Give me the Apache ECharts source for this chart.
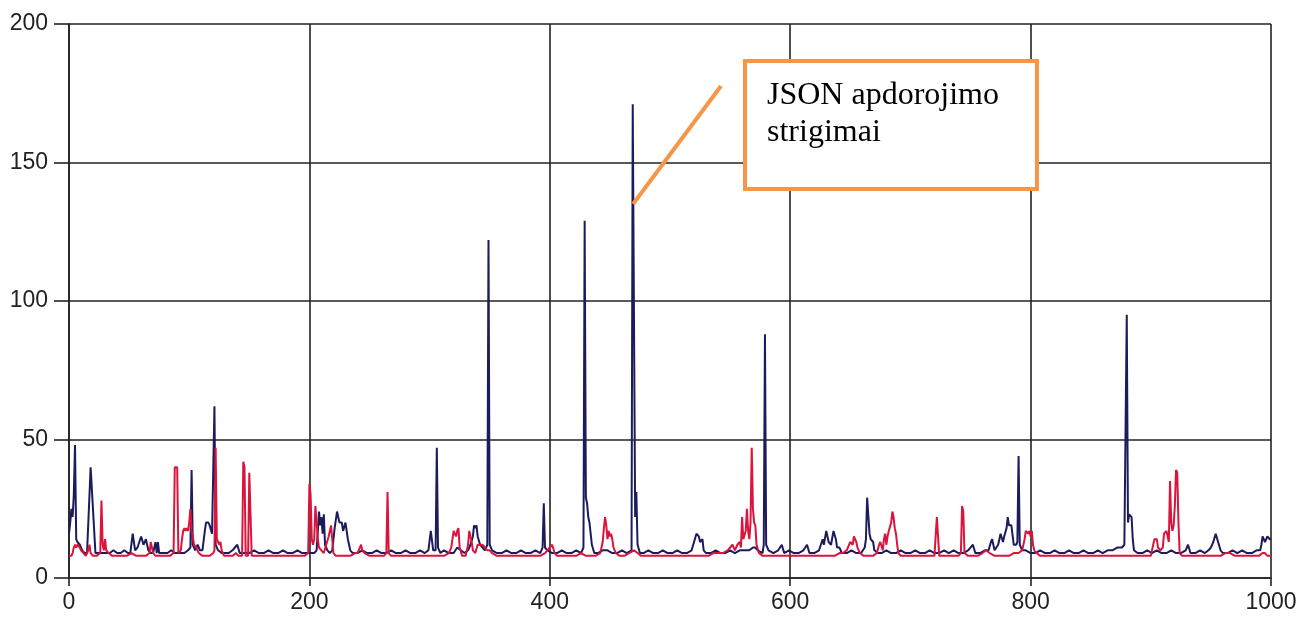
<!DOCTYPE html>
<html>
<head>
<meta charset="utf-8">
<script src="https://cdn.jsdelivr.net/npm/echarts@6/dist/echarts.min.js"></script>
<style>
html,body{margin:0;padding:0;background:#fff;}
#chart{width:1296px;height:617px;}
</style>
</head>
<body>
<div id="chart"></div>
<script>
// x-axis and y-axis tick values
const xTicks = [0, 200, 400, 600, 800, 1000];
const yTicks = [0, 50, 100, 150, 200];

// navy series: [x, value]
const blueData = [[0,16],[1,20],[2,25],[3,22],[4,30],[5,48],[6,14],[7,13],[8,13],[9,12],[10,12],[11,10],[13,9],[15,9],[18,40],[22,9],[25,9],[28,9],[31,9],[34,9],[37,10],[40,9],[43,9],[46,10],[49,9],[51,9],[53,16],[55,10],[57,11],[60,15],[62,12],[64,14],[66,10],[68,9],[70,9],[72,13],[73,9],[74,13],[75,9],[78,9],[82,9],[85,10],[88,9],[92,9],[96,9],[99,10],[101,11],[102,39],[103,12],[105,10],[107,12],[109,10],[111,10],[113,17],[114,20],[116,20],[117,19],[119,16],[121,62],[122,12],[124,10],[127,9],[130,9],[133,9],[136,10],[138,11],[140,12],[142,9],[146,9],[150,9],[154,10],[158,9],[162,9],[166,10],[170,9],[174,9],[178,10],[182,9],[186,9],[190,10],[194,9],[198,9],[202,9],[204,9],[206,10],[208,24],[209,19],[210,22],[211,16],[212,23],[213,12],[215,10],[217,9],[219,10],[221,18],[223,24],[225,20],[227,20],[228,17],[230,20],[232,14],[234,10],[236,9],[240,9],[244,10],[248,9],[252,9],[256,10],[260,9],[264,9],[268,10],[272,9],[276,9],[280,10],[284,9],[288,9],[292,10],[296,9],[299,10],[301,17],[303,10],[305,10],[306,47],[307,11],[309,9],[312,10],[316,9],[320,9],[323,11],[326,10],[329,9],[332,10],[334,12],[336,15],[337,19],[338,18],[339,19],[340,15],[342,12],[344,11],[346,10],[348,12],[349,122],[350,12],[352,10],[356,9],[360,9],[364,10],[368,9],[372,9],[376,10],[380,9],[384,9],[388,10],[392,9],[394,11],[395,27],[396,11],[398,10],[402,9],[406,9],[410,10],[414,9],[418,9],[422,10],[426,9],[428,11],[429,129],[430,29],[431,27],[432,22],[433,20],[435,12],[437,9],[440,9],[444,10],[448,10],[452,9],[456,9],[460,10],[464,9],[468,10],[469,171],[471,22],[472,31],[473,12],[475,9],[478,9],[482,10],[486,9],[490,9],[494,10],[498,9],[502,9],[506,10],[510,9],[514,9],[518,10],[520,13],[522,16],[523,16],[524,15],[525,13],[527,14],[528,10],[530,9],[534,9],[538,10],[542,9],[546,9],[550,10],[554,9],[558,10],[562,10],[566,10],[569,11],[571,11],[573,10],[577,9],[578,12],[579,88],[580,12],[582,10],[586,9],[590,10],[593,12],[595,9],[599,10],[603,9],[607,9],[611,10],[614,12],[616,9],[620,9],[624,10],[627,14],[628,12],[630,17],[632,13],[634,12],[636,17],[638,14],[639,11],[641,11],[643,9],[647,9],[651,10],[655,9],[659,9],[662,11],[663,14],[664,29],[666,16],[667,14],[669,13],[670,10],[673,9],[676,9],[680,10],[684,9],[688,9],[692,10],[696,9],[700,9],[704,10],[708,9],[712,9],[716,10],[720,9],[724,9],[728,10],[732,9],[736,10],[740,9],[744,9],[748,10],[752,12],[754,9],[758,9],[762,10],[765,10],[767,13],[768,14],[770,10],[773,12],[775,16],[777,13],[778,15],[780,18],[781,22],[782,19],[784,19],[786,12],[788,12],[789,13],[790,44],[791,12],[793,10],[796,10],[800,9],[804,9],[808,10],[812,9],[816,9],[820,10],[824,9],[828,9],[832,10],[836,9],[840,9],[844,10],[848,9],[852,9],[856,10],[860,9],[864,10],[868,10],[872,11],[876,11],[878,12],[880,95],[881,20],[882,23],[884,22],[885,14],[886,10],[889,9],[893,9],[897,10],[901,9],[905,10],[909,9],[913,9],[917,10],[921,9],[925,9],[929,10],[931,12],[933,9],[937,9],[941,10],[945,9],[948,10],[950,11],[952,13],[954,16],[956,13],[958,10],[960,9],[964,9],[968,10],[972,9],[976,10],[980,9],[984,9],[988,10],[991,10],[992,12],[993,15],[995,13],[997,15],[999,14],[1000,14]];

// crimson series: [x, value]
const redData = [[0,8],[2,8],[3,9],[4,11],[5,12],[6,11],[7,12],[8,12],[9,11],[10,10],[12,9],[14,8],[16,10],[17,12],[18,9],[20,8],[23,8],[26,9],[27,28],[28,12],[29,10],[30,14],[31,10],[33,9],[36,8],[40,8],[44,8],[48,8],[52,9],[56,8],[60,8],[64,8],[67,9],[68,13],[70,9],[72,8],[76,8],[80,8],[84,8],[87,9],[88,40],[90,40],[91,9],[93,10],[94,14],[95,17],[96,18],[97,17],[98,18],[99,17],[100,20],[101,25],[102,17],[103,15],[104,12],[106,11],[108,9],[111,8],[114,8],[117,8],[120,9],[121,10],[122,47],[123,14],[124,13],[125,12],[126,13],[127,10],[129,8],[132,8],[136,8],[139,9],[141,8],[144,8],[145,42],[146,40],[147,8],[149,8],[150,38],[151,38],[152,8],[156,8],[160,8],[164,8],[168,8],[172,8],[176,8],[180,8],[184,8],[188,8],[192,8],[196,8],[199,9],[200,34],[201,30],[202,14],[203,12],[204,14],[205,26],[206,20],[207,14],[208,11],[210,10],[212,9],[214,12],[216,15],[218,19],[219,14],[220,9],[222,8],[226,8],[230,8],[234,8],[238,9],[240,9],[242,11],[243,12],[244,10],[246,9],[250,8],[254,8],[258,8],[262,8],[264,9],[265,31],[266,9],[268,8],[272,8],[276,8],[280,8],[284,8],[288,8],[292,8],[296,8],[300,8],[304,8],[308,8],[312,8],[316,9],[318,11],[320,17],[321,16],[322,15],[323,17],[324,18],[325,11],[327,8],[330,8],[332,12],[333,17],[334,17],[335,13],[336,10],[338,9],[340,12],[342,12],[344,12],[346,11],[348,10],[350,10],[352,9],[356,8],[360,8],[364,8],[368,8],[372,8],[376,8],[380,8],[384,8],[388,8],[392,8],[396,9],[398,10],[400,11],[402,12],[404,9],[406,8],[410,8],[414,8],[418,8],[422,8],[426,9],[430,8],[434,8],[438,8],[442,9],[444,13],[445,18],[446,22],[447,19],[448,14],[449,17],[450,15],[451,16],[452,14],[453,11],[455,9],[458,8],[462,8],[466,9],[470,10],[473,9],[476,8],[480,8],[484,8],[488,8],[492,8],[496,8],[500,8],[504,8],[508,8],[512,8],[516,8],[520,8],[524,8],[528,8],[532,8],[536,9],[540,9],[544,9],[548,10],[550,11],[552,12],[554,10],[556,12],[558,13],[559,11],[560,22],[561,14],[563,17],[564,25],[565,17],[566,14],[567,20],[568,47],[569,25],[570,20],[571,19],[572,12],[574,9],[577,8],[581,8],[585,8],[589,8],[593,8],[597,8],[601,8],[605,8],[609,8],[613,8],[617,8],[621,8],[625,8],[629,8],[633,8],[637,8],[641,9],[644,9],[647,10],[649,12],[650,13],[652,12],[653,15],[655,13],[656,11],[658,9],[661,8],[665,8],[669,8],[672,9],[674,12],[675,13],[677,10],[678,14],[679,16],[680,12],[681,15],[682,17],[684,20],[685,24],[686,22],[687,18],[688,16],[689,12],[690,9],[692,8],[696,8],[700,8],[704,8],[708,8],[712,8],[716,8],[720,8],[722,22],[723,22],[724,8],[728,8],[732,8],[736,8],[740,8],[742,9],[743,26],[744,24],[745,9],[748,8],[752,8],[756,8],[760,9],[763,10],[766,9],[770,8],[774,8],[778,8],[782,8],[786,9],[790,9],[793,10],[795,14],[796,17],[798,16],[799,17],[800,15],[801,17],[802,12],[803,10],[805,9],[808,8],[812,8],[816,8],[820,8],[824,8],[828,8],[832,8],[836,8],[840,8],[844,8],[848,8],[852,8],[856,8],[860,8],[864,8],[868,8],[872,8],[876,8],[880,8],[884,8],[888,8],[892,8],[896,8],[900,8],[902,12],[903,14],[905,14],[906,11],[908,10],[910,11],[911,16],[913,17],[915,13],[916,35],[917,20],[918,17],[919,19],[920,26],[921,39],[922,38],[923,20],[924,9],[926,8],[930,8],[934,8],[938,8],[942,8],[946,8],[950,8],[954,8],[958,8],[962,9],[966,9],[970,8],[974,8],[978,8],[982,8],[986,8],[990,8],[993,9],[995,9],[997,8],[1000,8]];

// annotation text and its anchor (data coordinates)
const noteText = 'JSON apdorojimo\nstrigimai';
const noteLine = [[469.3, 135], [542.4, 177.6]];
const noteBox = [[562.4, 186.6], [805.3, 140.4]];

const chart = echarts.init(document.getElementById('chart'), null, {renderer: 'canvas'});
const gridColor = '#222';
chart.setOption({
  animation: false,
  backgroundColor: '#fff',
  grid: {left: 69, right: 25, top: 24, bottom: 39, containLabel: false, outerBoundsMode: 'none'},
  xAxis: {
    type: 'value', min: xTicks[0], max: xTicks[xTicks.length - 1], interval: 200,
    axisLine: {show: true, onZero: false, lineStyle: {color: gridColor, width: 1.6}},
    axisTick: {show: true, length: 8, lineStyle: {color: gridColor, width: 1.6}},
    splitLine: {show: true, lineStyle: {color: gridColor, width: 1.6}},
    axisLabel: {color: '#222', fontFamily: 'Liberation Sans, Arial, sans-serif', fontSize: 23, margin: 13,
      formatter: v => String(v), hideOverlap: false, showMaxLabel: true, showMinLabel: true}
  },
  yAxis: {
    type: 'value', min: yTicks[0], max: yTicks[yTicks.length - 1], interval: 50,
    axisLine: {show: true, lineStyle: {color: gridColor, width: 1.6}},
    axisTick: {show: true, length: 15, lineStyle: {color: gridColor, width: 1.6}},
    splitLine: {show: true, lineStyle: {color: gridColor, width: 1.6}},
    axisLabel: {color: '#222', fontFamily: 'Liberation Sans, Arial, sans-serif', fontSize: 23, margin: 21,
      formatter: v => String(v)}
  },
  series: [
    {
      type: 'line', data: blueData, showSymbol: false, symbol: 'none',
      lineStyle: {color: '#1c1c5c', width: 2}, z: 2
    },
    {
      type: 'line', data: redData, showSymbol: false, symbol: 'none',
      lineStyle: {color: '#dc143c', width: 2}, z: 3,
      markLine: {
        silent: true, symbol: ['none', 'none'], animation: false,
        lineStyle: {color: '#f79646', width: 4, type: 'solid'},
        label: {show: false},
        data: [[{coord: noteLine[0]}, {coord: noteLine[1]}]]
      },
      markArea: {
        silent: true,
        itemStyle: {color: '#fff', borderColor: '#f79646', borderWidth: 4, opacity: 1},
        label: {
          show: true, position: 'insideTopLeft', distance: 0,
          padding: [18, 0, 0, 24],
          color: '#000', fontFamily: 'Liberation Serif, Times New Roman, serif',
          fontSize: 32, lineHeight: 37, formatter: noteText
        },
        data: [[{coord: noteBox[0]}, {coord: noteBox[1]}]]
      }
    }
  ]
});
</script>
</body>
</html>
